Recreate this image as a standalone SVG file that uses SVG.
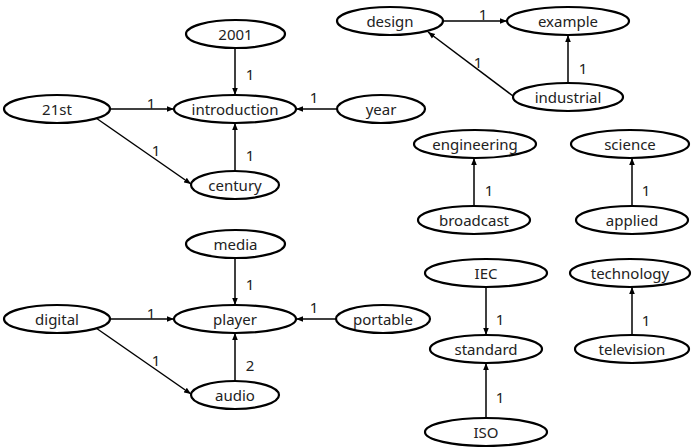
<svg xmlns="http://www.w3.org/2000/svg" width="692" height="447" viewBox="0 0 692 447">
<style>
.n ellipse{fill:#fff;stroke:#000;stroke-width:2.2}
.n text{font-family:"Noto Sans","Open Sans",sans-serif;font-size:15px;fill:#222;text-anchor:middle;dominant-baseline:central}
.e line{stroke:#000;stroke-width:1.5;marker-end:url(#a)}
.e text{font-family:"Noto Sans","Open Sans",sans-serif;font-size:15px;fill:#222;text-anchor:middle;dominant-baseline:central}
</style>
<defs>
<marker id="a" viewBox="0 0 10 10" refX="10" refY="5" markerWidth="7" markerHeight="7" markerUnits="userSpaceOnUse" orient="auto">
<path d="M0,1 L10,5 L0,9 z" fill="#000"/>
</marker>
</defs>
<rect width="692" height="447" fill="#fff"/>
<g id="edges" class="e">
<line x1="235" y1="48" x2="235" y2="95"/><text x="250" y="74">1</text>
<line x1="110" y1="109" x2="174" y2="109"/><text x="151" y="103">1</text>
<line x1="337" y1="109" x2="296" y2="109"/><text x="314" y="97">1</text>
<line x1="96" y1="118" x2="191" y2="184"/><text x="156" y="150">1</text>
<line x1="235" y1="171" x2="235" y2="123"/><text x="250" y="155">1</text>
<line x1="443" y1="21" x2="507" y2="21"/><text x="483" y="14">1</text>
<line x1="513" y1="96" x2="428" y2="32"/><text x="478" y="62">1</text>
<line x1="568" y1="83" x2="568" y2="35"/><text x="583" y="68">1</text>
<line x1="474" y1="206" x2="474" y2="158"/><text x="489" y="190">1</text>
<line x1="632" y1="206" x2="632" y2="158"/><text x="646" y="190">1</text>
<line x1="235" y1="258" x2="235" y2="305"/><text x="250" y="284">1</text>
<line x1="110" y1="319" x2="174" y2="319"/><text x="151" y="313">1</text>
<line x1="337" y1="319" x2="296" y2="319"/><text x="314" y="307">1</text>
<line x1="96" y1="328" x2="191" y2="394"/><text x="156" y="360">1</text>
<line x1="235" y1="381" x2="235" y2="333"/><text x="250" y="365">2</text>
<line x1="486" y1="287" x2="486" y2="335"/><text x="500" y="319">1</text>
<line x1="486" y1="418" x2="486" y2="363"/><text x="500" y="397">1</text>
<line x1="632" y1="335" x2="632" y2="287"/><text x="646" y="320">1</text>
</g>
<g id="n-2001" class="n"><ellipse cx="235.5" cy="34" rx="49.5" ry="14"/><text x="235.5" y="34">2001</text></g>
<g id="n-introduction" class="n"><ellipse cx="235" cy="109" rx="61" ry="14"/><text x="235" y="109">introduction</text></g>
<g id="n-21st" class="n"><ellipse cx="57" cy="109" rx="53" ry="14"/><text x="57" y="109">21st</text></g>
<g id="n-year" class="n"><ellipse cx="381" cy="109" rx="44" ry="14"/><text x="381" y="109">year</text></g>
<g id="n-century" class="n"><ellipse cx="235" cy="185" rx="44" ry="14"/><text x="235" y="185">century</text></g>
<g id="n-design" class="n"><ellipse cx="390" cy="21" rx="53" ry="14"/><text x="390" y="21">design</text></g>
<g id="n-example" class="n"><ellipse cx="568" cy="21" rx="61" ry="14"/><text x="568" y="21">example</text></g>
<g id="n-industrial" class="n"><ellipse cx="568" cy="97" rx="55" ry="14"/><text x="568" y="97">industrial</text></g>
<g id="n-engineering" class="n"><ellipse cx="475" cy="144" rx="61" ry="14"/><text x="475" y="144">engineering</text></g>
<g id="n-broadcast" class="n"><ellipse cx="474" cy="220" rx="56" ry="14"/><text x="474" y="220">broadcast</text></g>
<g id="n-science" class="n"><ellipse cx="630" cy="144" rx="59" ry="14"/><text x="630" y="144">science</text></g>
<g id="n-applied" class="n"><ellipse cx="632" cy="220" rx="56" ry="14"/><text x="632" y="220">applied</text></g>
<g id="n-media" class="n"><ellipse cx="235.5" cy="244" rx="49.5" ry="14"/><text x="235.5" y="244">media</text></g>
<g id="n-player" class="n"><ellipse cx="235" cy="319" rx="61" ry="14"/><text x="235" y="319">player</text></g>
<g id="n-digital" class="n"><ellipse cx="57" cy="319" rx="53" ry="14"/><text x="57" y="319">digital</text></g>
<g id="n-portable" class="n"><ellipse cx="383" cy="319" rx="47" ry="14"/><text x="383" y="319">portable</text></g>
<g id="n-audio" class="n"><ellipse cx="235" cy="395" rx="44" ry="14"/><text x="235" y="395">audio</text></g>
<g id="n-IEC" class="n"><ellipse cx="486" cy="273" rx="61" ry="14"/><text x="486" y="273">IEC</text></g>
<g id="n-standard" class="n"><ellipse cx="486" cy="349" rx="56" ry="14"/><text x="486" y="349">standard</text></g>
<g id="n-ISO" class="n"><ellipse cx="486" cy="432" rx="61" ry="14"/><text x="486" y="432">ISO</text></g>
<g id="n-technology" class="n"><ellipse cx="630" cy="273" rx="60" ry="14"/><text x="630" y="273">technology</text></g>
<g id="n-television" class="n"><ellipse cx="632" cy="349" rx="57" ry="14"/><text x="632" y="349">television</text></g>
</svg>
